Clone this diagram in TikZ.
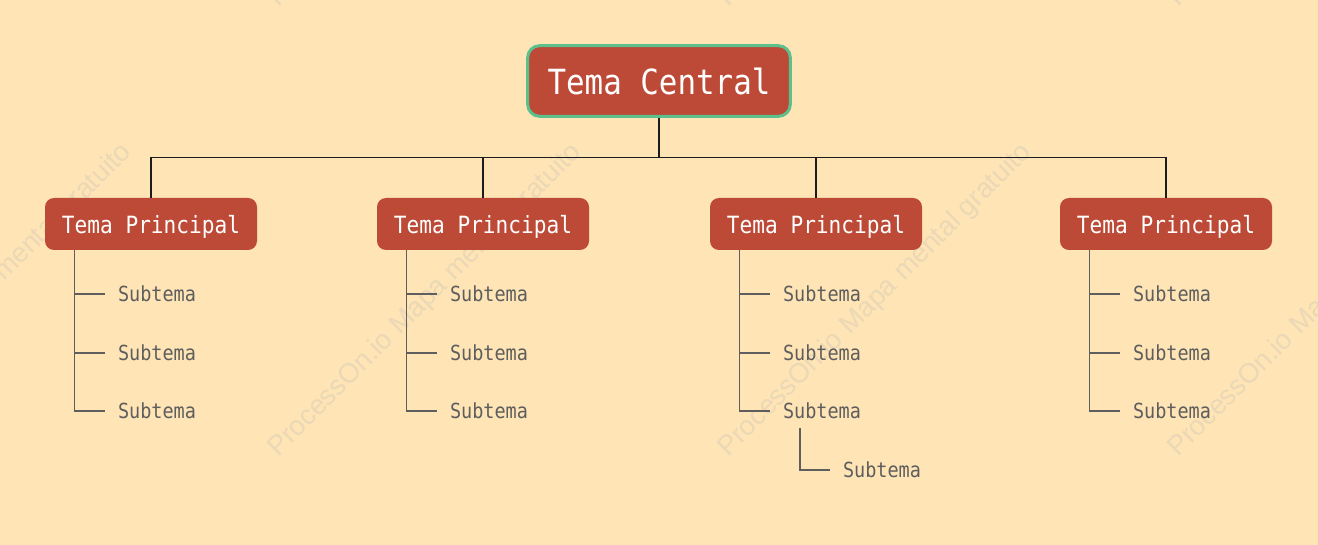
\documentclass[tikz,border=0pt]{standalone}
\usepackage{fontspec}
\usepackage{xcolor}
\setmainfont[FakeStretch=0.89]{DejaVu Sans Mono}
\newfontfamily\markfont{Liberation Sans}
\definecolor{mapbg}{HTML}{FFE4B5}
\definecolor{boxred}{HTML}{BD4A37}
\definecolor{rimgreen}{HTML}{5CC08C}
\definecolor{subgray}{HTML}{5E5E5E}
\definecolor{linkink}{HTML}{1C1C1C}
\definecolor{markink}{HTML}{EAD8B6}

\begin{document}
\begin{tikzpicture}[
  x=0.75pt,
  y=-0.75pt,
  central/.style={rectangle, rounded corners=9pt, fill=boxred, draw=rimgreen,
                  line width=2.25pt, text=white, minimum width=197pt,
                  minimum height=53pt, font=\fontsize{26}{30}\selectfont},
  principal/.style={rectangle, rounded corners=6.75pt, fill=boxred, text=white,
                    minimum width=159pt, minimum height=39pt, text depth=0pt,
                    font=\fontsize{17.8}{21}\selectfont},
  subtema/.style={anchor=west, inner sep=0pt, outer xsep=9.75pt, outer ysep=0pt,
                  text=subgray, font=\fontsize{15.6}{18}\selectfont},
  link/.style={linkink, line width=1pt},
  subline/.style={subgray, line width=1pt},
  watermark/.style={anchor=base west, rotate=45, inner sep=0pt, text=markink,
                    font=\markfont\fontsize{20.6}{24}\selectfont}
]
  % ---- page ----
  \fill[mapbg] (0,0) rectangle (1318,545);
  \useasboundingbox (0,0) rectangle (1318,545);

  % ---- watermark ----
  \foreach \k in {-1,0,1,2}
    \foreach \r in {0,1}
      \node[watermark] (mark\k\r) at (278+450*\k,458-450*\r)
        {ProcessOn.io Mapa mental gratuito};

  % ---- central topic ----
  \node[central] (central) at (659,81) {Tema Central};

  % ---- main topics with their subtopics ----
  \foreach \i/\x in {1/151, 2/483, 3/816, 4/1166} {
    \node[principal] (p\i) at (\x,224) {Tema Principal};
    \draw[link] (central.south) -- ++(0,40) -| (p\i.north);
    \foreach \j/\y in {1/294, 2/353, 3/411}
      \node[subtema] (s\i\j) at (\x-46,\y) {Subtema};
    \coordinate (rail\i) at ([xshift=22.5pt]p\i.south west);
    \draw[subline] (rail\i) |- (s\i3.west);
    \draw[subline] (s\i1.west) -- (s\i1.west -| rail\i);
    \draw[subline] (s\i2.west) -- (s\i2.west -| rail\i);
  }

  % ---- nested subtopic ----
  \node[subtema] (s34) at (830,470) {Subtema};
  \coordinate (rail34) at ([xshift=22.5pt, yshift=-7pt]s33.south west);
  \draw[subline] (rail34) |- (s34.west);
\end{tikzpicture}
\end{document}
